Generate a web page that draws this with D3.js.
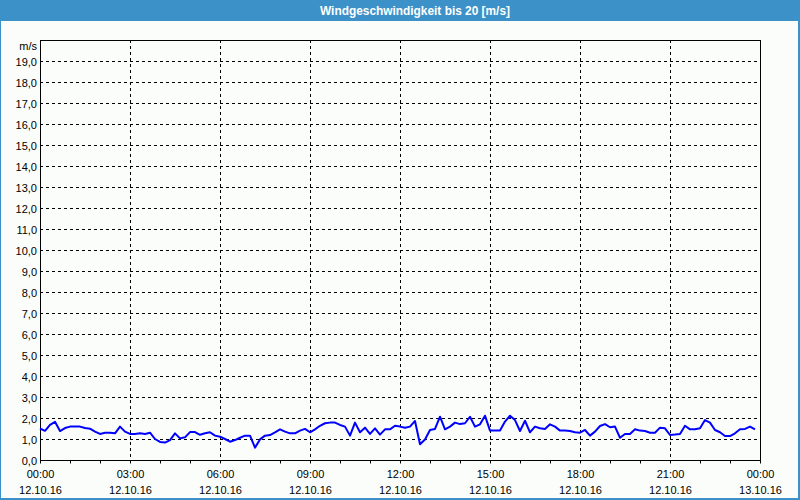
<!DOCTYPE html>
<html>
<head>
<meta charset="utf-8">
<script src="https://cdn.jsdelivr.net/npm/d3@7"></script>
<style>
  html, body { margin: 0; padding: 0; background: #fbfdfb; }
  svg { display: block; }
  text { font-family: "Liberation Sans", Arial, sans-serif; }
</style>
</head>
<body>
<svg id="chart" width="800" height="500"></svg>
<script>
// ---- data ----
const title = "Windgeschwindigkeit bis 20 [m/s]";
const unitLabel = "m/s";
const startTime = "2016-10-12T00:00:00";
const endTime = "2016-10-13T00:00:00";
const stepMinutes = 10;
const windSpeed = [
  1.50, 1.39, 1.67, 1.82, 1.38, 1.52, 1.59, 1.59, 1.59, 1.52,
  1.49, 1.35, 1.24, 1.30, 1.30, 1.27, 1.59, 1.35, 1.24, 1.24,
  1.27, 1.24, 1.30, 1.00, 0.86, 0.83, 0.95, 1.27, 1.03, 1.08,
  1.33, 1.33, 1.20, 1.27, 1.32, 1.16, 1.11, 1.00, 0.87, 0.95,
  1.06, 1.16, 1.16, 0.59, 0.98, 1.16, 1.19, 1.32, 1.46, 1.35,
  1.27, 1.27, 1.40, 1.48, 1.32, 1.46, 1.63, 1.75, 1.78, 1.78,
  1.67, 1.59, 1.16, 1.78, 1.32, 1.54, 1.24, 1.51, 1.21, 1.46,
  1.46, 1.63, 1.59, 1.54, 1.59, 1.86, 0.75, 0.98, 1.43, 1.48,
  2.06, 1.46, 1.59, 1.78, 1.71, 1.75, 2.06, 1.59, 1.70, 2.11,
  1.40, 1.40, 1.40, 1.83, 2.11, 1.90, 1.38, 1.87, 1.32, 1.59,
  1.51, 1.48, 1.70, 1.59, 1.40, 1.40, 1.38, 1.32, 1.30, 1.43,
  1.16, 1.35, 1.62, 1.71, 1.56, 1.59, 1.06, 1.24, 1.24, 1.46,
  1.40, 1.38, 1.30, 1.30, 1.54, 1.51, 1.19, 1.21, 1.24, 1.63,
  1.46, 1.46, 1.51, 1.90, 1.78, 1.43, 1.32, 1.14, 1.14, 1.27,
  1.46, 1.48, 1.59, 1.46
];
const yTickValues = [0,1,2,3,4,5,6,7,8,9,10,11,12,13,14,15,16,17,18,19];
const yTickLabels = ["0,0","1,0","2,0","3,0","4,0","5,0","6,0","7,0","8,0","9,0",
  "10,0","11,0","12,0","13,0","14,0","15,0","16,0","17,0","18,0","19,0"];
const xTimeLabels = ["00:00","03:00","06:00","09:00","12:00","15:00","18:00","21:00","00:00"];
const xDateLabels = ["12.10.16","12.10.16","12.10.16","12.10.16","12.10.16","12.10.16","12.10.16","12.10.16","13.10.16"];

// ---- layout ----
const W = 800, H = 500;
const mLeft = 40, mRight = 760, mTop = 40, mBottom = 460;
const blue = "#3c91c8";
const svg = d3.select("#chart");

const t0 = new Date(startTime), t1 = new Date(endTime);
const x = d3.scaleTime().domain([t0, t1]).range([mLeft, mRight]);
const y = d3.scaleLinear().domain([0, 20]).range([mBottom, mTop]);

const points = windSpeed.map((v, i) => ({ t: d3.timeMinute.offset(t0, i * stepMinutes), v }));
const majorTicks = d3.timeHour.every(3).range(t0, d3.timeMinute.offset(t1, 1));
const minorTicks = d3.timeHour.every(1).range(t0, d3.timeMinute.offset(t1, 1));

// frame
svg.append("rect").attr("x", 0).attr("y", 0).attr("width", W).attr("height", H).attr("fill", blue);
svg.append("rect").attr("x", 1).attr("y", 21).attr("width", W - 3).attr("height", H - 23).attr("fill", "#fbfdfb");

svg.append("text")
  .attr("x", 415).attr("y", 14.5)
  .attr("text-anchor", "middle")
  .attr("fill", "#ffffff")
  .attr("font-size", 12).attr("font-weight", "bold")
  .attr("textLength", 190).attr("lengthAdjust", "spacingAndGlyphs")
  .text(title);

// grid
const grid = svg.append("g").attr("stroke", "#000").attr("stroke-width", 1).attr("stroke-dasharray", "3,3").attr("fill", "none");
grid.selectAll("line.h").data(yTickValues.filter(d => d > 0)).join("line")
  .attr("x1", mLeft).attr("x2", mRight)
  .attr("y1", d => Math.round(y(d)) + 0.5).attr("y2", d => Math.round(y(d)) + 0.5);
grid.selectAll("line.v").data(majorTicks.slice(1, -1)).join("line")
  .attr("y1", mTop).attr("y2", mBottom)
  .attr("x1", d => Math.round(x(d)) + 0.5).attr("x2", d => Math.round(x(d)) + 0.5);

// hourly ticks below axis
svg.append("g").attr("stroke", "#000").selectAll("line").data(minorTicks).join("line")
  .attr("x1", d => Math.round(x(d)) + 0.5).attr("x2", d => Math.round(x(d)) + 0.5)
  .attr("y1", mBottom).attr("y2", mBottom + 3.5);

// border
svg.append("rect").attr("x", mLeft + 0.5).attr("y", mTop + 0.5)
  .attr("width", mRight - mLeft).attr("height", mBottom - mTop)
  .attr("fill", "none").attr("stroke", "#000").attr("stroke-width", 1);

// y labels
svg.append("g").selectAll("text").data(yTickValues).join("text")
  .attr("x", 37).attr("y", d => y(d) + 4.5)
  .attr("text-anchor", "end").attr("font-size", 11).attr("fill", "#000")
  .text((d, i) => yTickLabels[i]);
svg.append("text").attr("x", 37).attr("y", 50)
  .attr("text-anchor", "end").attr("font-size", 11).attr("fill", "#000").text(unitLabel);

// x labels
const xl = svg.append("g").attr("font-size", 11).attr("fill", "#000").attr("text-anchor", "middle");
xl.selectAll("text.time").data(majorTicks).join("text").attr("class", "time")
  .attr("x", d => x(d) + 0.5).attr("y", 478).text((d, i) => xTimeLabels[i]);
xl.selectAll("text.date").data(majorTicks).join("text").attr("class", "date")
  .attr("x", d => x(d) + 0.5).attr("y", 494).text((d, i) => xDateLabels[i]);

// line
svg.append("path").datum(points)
  .attr("fill", "none").attr("stroke", "#0000ff").attr("stroke-width", 2)
  .attr("stroke-linejoin", "round")
  .attr("d", d3.line().x(d => x(d.t)).y(d => y(d.v)));
</script>
</body>
</html>
